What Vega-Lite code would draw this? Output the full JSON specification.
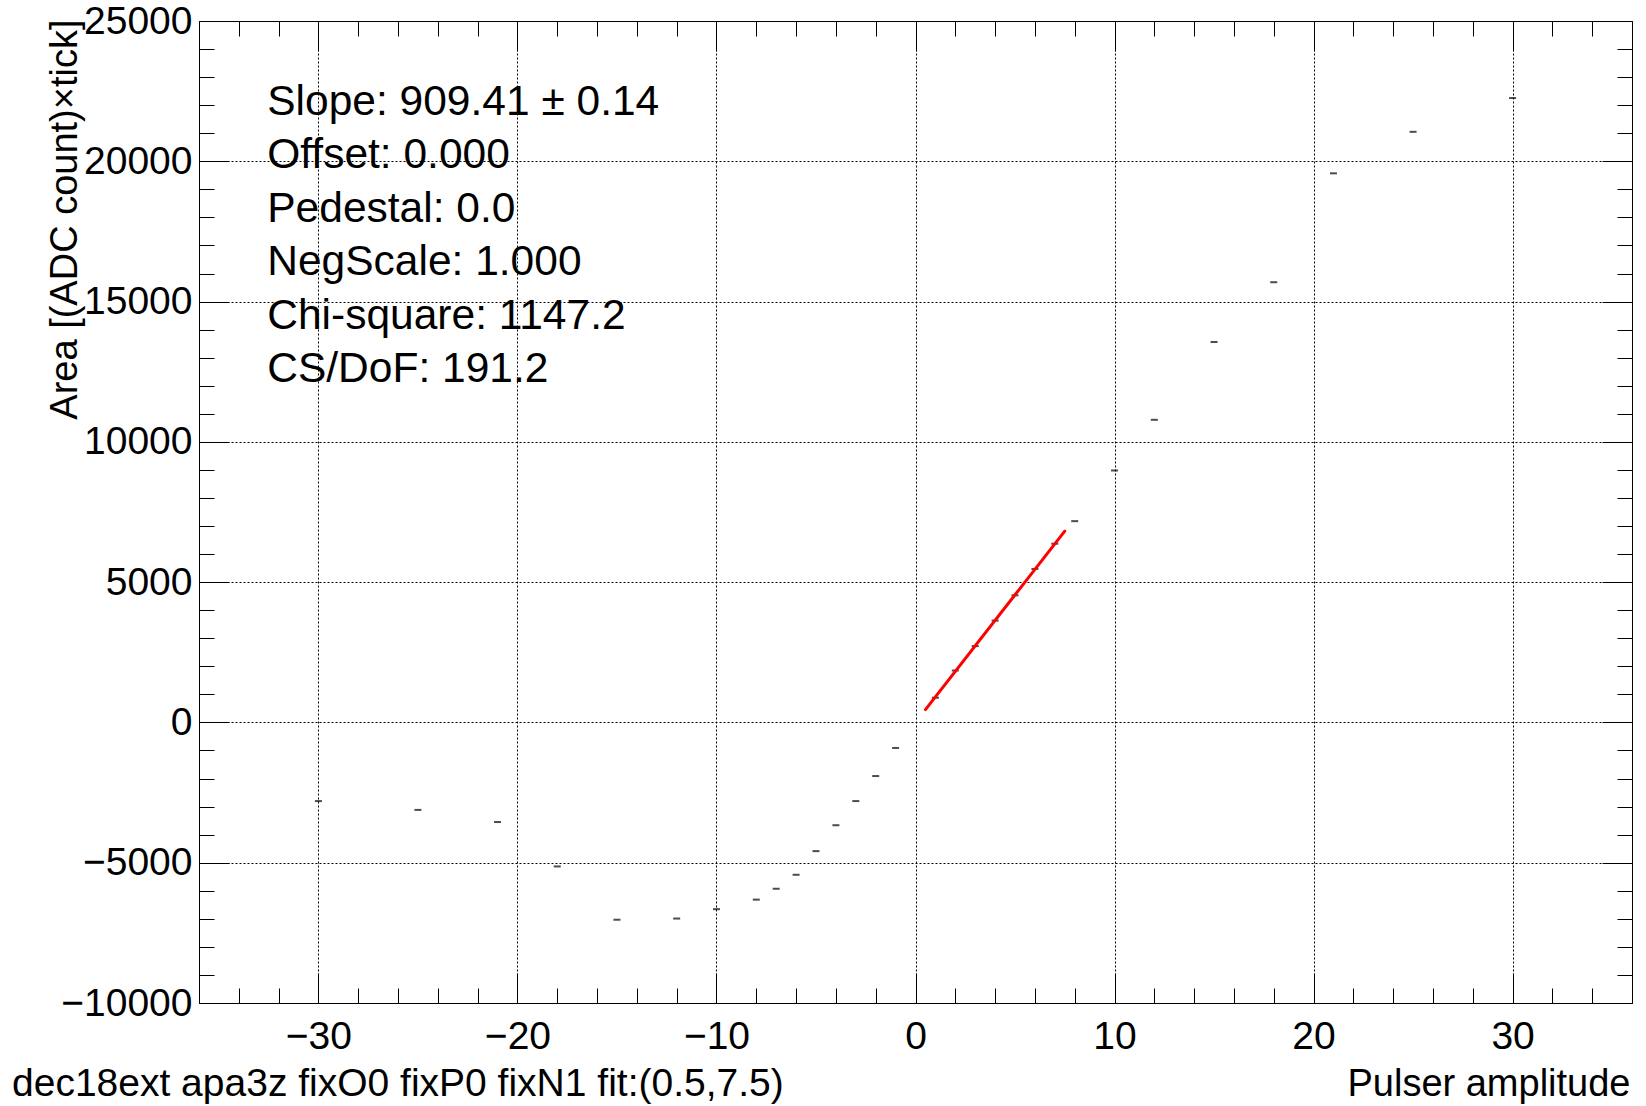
{
  "$schema": "https://vega.github.io/schema/vega-lite/v6.json",
  "width": 1433,
  "height": 982,
  "autosize": {"type": "none"},
  "padding": {"left": 199, "top": 21, "right": 14, "bottom": 103},
  "background": "white",
  "config": {"view": {"stroke": "#000", "strokeWidth": 1}, "font": "Liberation Sans"},
  "title": {
    "text": "dec18ext apa3z fixO0 fixP0 fixN1 fit:(0.5,7.5)",
    "orient": "bottom", "anchor": "start", "frame": "group",
    "font": "Liberation Sans", "fontSize": 39, "fontWeight": "normal", "color": "#000",
    "dx": -187, "dy": -38, "offset": 0
  },
  "datasets": {
    "points": [
      {"amplitude": -30, "area": -2803},
      {"amplitude": -25, "area": -3118},
      {"amplitude": -21, "area": -3550},
      {"amplitude": -18, "area": -5133},
      {"amplitude": -15, "area": -7032},
      {"amplitude": -12, "area": -6990},
      {"amplitude": -10, "area": -6655},
      {"amplitude": -8, "area": -6316},
      {"amplitude": -7, "area": -5928},
      {"amplitude": -6, "area": -5430},
      {"amplitude": -5, "area": -4587},
      {"amplitude": -4, "area": -3664},
      {"amplitude": -3, "area": -2803},
      {"amplitude": -2, "area": -1911},
      {"amplitude": -1, "area": -910},
      {"amplitude": 1, "area": 880},
      {"amplitude": 2, "area": 1850},
      {"amplitude": 3, "area": 2720},
      {"amplitude": 4, "area": 3630},
      {"amplitude": 5, "area": 4530},
      {"amplitude": 6, "area": 5470},
      {"amplitude": 7, "area": 6370},
      {"amplitude": 8, "area": 7174},
      {"amplitude": 10, "area": 8980},
      {"amplitude": 12, "area": 10786},
      {"amplitude": 15, "area": 13560},
      {"amplitude": 18, "area": 15690},
      {"amplitude": 21, "area": 19571},
      {"amplitude": 25, "area": 21050},
      {"amplitude": 30, "area": 22254}
    ],
    "fit": [
      {"amplitude": 0.5, "area": 454.7},
      {"amplitude": 7.5, "area": 6820.6}
    ]
  },
  "layer": [
    {
      "data": {"name": "points"},
      "mark": {"type": "tick", "orient": "horizontal", "size": 7, "thickness": 2, "color": "#000"},
      "encoding": {
        "x": {
          "field": "amplitude", "type": "quantitative",
          "scale": {"domain": [-36, 36], "nice": false, "zero": false},
          "axis": {
            "orient": "bottom",
            "values": [-34,-32,-30,-28,-26,-24,-22,-20,-18,-16,-14,-12,-10,-8,-6,-4,-2,0,2,4,6,8,10,12,14,16,18,20,22,24,26,28,30,32,34],
            "domain": false,
            "ticks": true,
            "tickColor": "#000", "tickWidth": 1,
            "tickSize": {"condition": {"test": "datum.value % 10 === 0", "value": -30}, "value": -15},
            "grid": true, "gridColor": "#000", "gridDash": [2, 2], "gridWidth": 1,
            "gridOpacity": {"condition": {"test": "datum.value % 10 === 0", "value": 1}, "value": 0},
            "labelExpr": "datum.value % 10 === 0 ? datum.label : ''",
            "labelFont": "Liberation Sans", "labelFontSize": 39, "labelColor": "#000",
            "labelPadding": 44, "labelFlush": false, "labelOverlap": false,
            "format": "d",
            "title": "Pulser amplitude",
            "titleFont": "Liberation Sans", "titleFontSize": 38, "titleFontWeight": "normal", "titleColor": "#000",
            "titleAlign": "right", "titleAnchor": "end", "titleBaseline": "alphabetic",
            "titleX": 1431, "titleY": 92
          }
        },
        "y": {
          "field": "area", "type": "quantitative",
          "scale": {"domain": [-10000, 25000], "nice": false, "zero": false},
          "axis": {
            "orient": "left",
            "values": [-10000,-9000,-8000,-7000,-6000,-5000,-4000,-3000,-2000,-1000,0,1000,2000,3000,4000,5000,6000,7000,8000,9000,10000,11000,12000,13000,14000,15000,16000,17000,18000,19000,20000,21000,22000,23000,24000,25000],
            "domain": false,
            "tickColor": "#000", "tickWidth": 1,
            "tickSize": {"condition": {"test": "datum.value % 5000 === 0", "value": -30}, "value": -15},
            "grid": true, "gridColor": "#000", "gridDash": [2, 2], "gridWidth": 1,
            "gridOpacity": {"condition": {"test": "datum.value % 5000 === 0", "value": 1}, "value": 0},
            "labelExpr": "datum.value % 5000 === 0 ? datum.label : ''",
            "labelFont": "Liberation Sans", "labelFontSize": 39, "labelColor": "#000",
            "labelPadding": 37, "labelFlush": false, "labelOverlap": false,
            "format": "d",
            "title": "Area [(ADC count)×tick]",
            "titleFont": "Liberation Sans", "titleFontSize": 38, "titleFontWeight": "normal", "titleColor": "#000",
            "titleAngle": -90, "titleAlign": "right", "titleAnchor": "end", "titleBaseline": "alphabetic",
            "titleX": -123, "titleY": -2
          }
        }
      }
    },
    {
      "data": {"name": "fit"},
      "mark": {"type": "line", "color": "#ff0000", "strokeWidth": 3, "strokeCap": "round"},
      "encoding": {
        "x": {
          "field": "amplitude", "type": "quantitative",
          "axis": {
            "orient": "top",
            "values": [-34,-32,-30,-28,-26,-24,-22,-20,-18,-16,-14,-12,-10,-8,-6,-4,-2,0,2,4,6,8,10,12,14,16,18,20,22,24,26,28,30,32,34],
            "domain": false, "labels": false, "grid": false, "title": null,
            "tickColor": "#000", "tickWidth": 1,
            "tickSize": {"condition": {"test": "datum.value % 10 === 0", "value": -30}, "value": -15}
          }
        },
        "y": {
          "field": "area", "type": "quantitative",
          "axis": {
            "orient": "right",
            "values": [-10000,-9000,-8000,-7000,-6000,-5000,-4000,-3000,-2000,-1000,0,1000,2000,3000,4000,5000,6000,7000,8000,9000,10000,11000,12000,13000,14000,15000,16000,17000,18000,19000,20000,21000,22000,23000,24000,25000],
            "domain": false, "labels": false, "grid": false, "title": null,
            "tickColor": "#000", "tickWidth": 1,
            "tickSize": {"condition": {"test": "datum.value % 5000 === 0", "value": -30}, "value": -15}
          }
        }
      }
    },
    {
      "data": {"values": [{}]},
      "mark": {
        "type": "text",
        "text": ["Slope: 909.41 ± 0.14", "Offset: 0.000", "Pedestal: 0.0", "NegScale: 1.000", "Chi-square: 1147.2", "CS/DoF: 191.2"],
        "align": "left", "baseline": "alphabetic", "lineHeight": 53.5,
        "font": "Liberation Sans", "fontSize": 42.5, "color": "#000"
      },
      "encoding": {
        "x": {"datum": -32.57, "type": "quantitative", "axis": null},
        "y": {"datum": 21650, "type": "quantitative", "axis": null}
      }
    }
  ],
  "resolve": {"axis": {"x": "independent", "y": "independent"}}
}
